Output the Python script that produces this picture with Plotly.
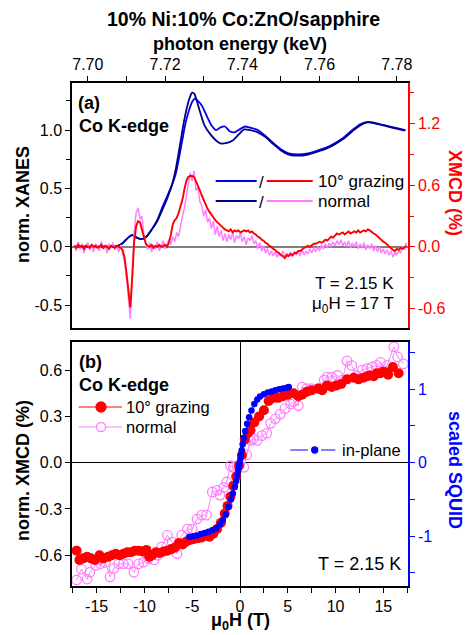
import plotly.graph_objects as go

# ---------------- top panel: Co K-edge XANES (left axis) ----------------
xanes_e_grazing = [7.6965, 7.7000, 7.7050, 7.7075, 7.7090, 7.7105, 7.7115, 7.7125, 7.7137, 7.7150,
                   7.7166, 7.7180, 7.7192, 7.7205, 7.7218, 7.7228, 7.7236, 7.7245, 7.7253, 7.7262,
                   7.7270, 7.7277, 7.7285, 7.7295, 7.7308, 7.7320, 7.7332, 7.7345, 7.7355, 7.7367,
                   7.7380, 7.7395, 7.7408, 7.7420, 7.7440, 7.7460, 7.7480, 7.7500, 7.7520, 7.7545,
                   7.7570, 7.7600, 7.7630, 7.7660, 7.7685, 7.7705, 7.7725, 7.7745, 7.7770, 7.7795,
                   7.7822]
xanes_grazing = [0.0, 0.0, 0.0, 0.005, 0.03, 0.08, 0.10, 0.08, 0.065, 0.08,
                 0.15, 0.23, 0.33, 0.43, 0.53, 0.63, 0.76, 0.92, 1.06, 1.17,
                 1.24, 1.27, 1.25, 1.21, 1.12, 1.04, 1.00, 1.025, 1.03, 0.99,
                 0.98, 1.01, 1.03, 1.02, 1.00, 0.95, 0.89, 0.835, 0.80, 0.79,
                 0.80, 0.83, 0.87, 0.93, 1.00, 1.05, 1.07, 1.06, 1.04, 1.02,
                 1.00]

xanes_e_normal = [7.6965, 7.7000, 7.7050, 7.7075, 7.7090, 7.7105, 7.7115, 7.7125, 7.7137, 7.7150,
                  7.7166, 7.7180, 7.7192, 7.7205, 7.7218, 7.7228, 7.7236, 7.7245, 7.7253, 7.7262,
                  7.7270, 7.7276, 7.7283, 7.7292, 7.7302, 7.7318, 7.7332, 7.7343, 7.7360, 7.7375,
                  7.7390, 7.7405, 7.7420, 7.7440, 7.7460, 7.7480, 7.7500, 7.7520, 7.7545, 7.7570,
                  7.7600, 7.7630, 7.7660, 7.7685, 7.7705, 7.7725, 7.7745, 7.7770, 7.7795, 7.7822]
xanes_normal = [0.0, 0.0, 0.0, 0.005, 0.03, 0.08, 0.10, 0.08, 0.065, 0.08,
                0.15, 0.22, 0.31, 0.41, 0.53, 0.67, 0.82, 1.00, 1.14, 1.26,
                1.32, 1.31, 1.24, 1.14, 1.04, 0.96, 0.91, 0.885, 0.89, 0.91,
                0.96, 1.005, 1.00, 0.98, 0.94, 0.88, 0.825, 0.79, 0.78, 0.79,
                0.82, 0.86, 0.92, 0.99, 1.04, 1.065, 1.055, 1.035, 1.015, 0.995]

# ---------------- top panel: XMCD in % (right axis), 0.5 eV scan grid ----------------
XMCD_E_START = 7.6965
XMCD_E_STEP = 0.0005
xmcd_grazing = [
    0.01, -0.01, 0.02, 0.0, 0.01, -0.02, 0.01, 0.0, -0.01, 0.02, 0.0, 0.01, -0.01, 0.0, 0.02,
    -0.01, 0.01, 0.0, -0.02, 0.01, 0.0, -0.01, 0.01, 0.0, -0.01,
    -0.03, -0.10, -0.25, -0.45, -0.59, -0.30, 0.05, 0.20, 0.25, 0.24, 0.16, 0.08, 0.03,
    0.01, 0.0, 0.02, -0.01, 0.01, 0.0, 0.02, 0.0, 0.01, 0.02, 0.0,
    0.04, 0.12, 0.22, 0.26, 0.28, 0.33, 0.40, 0.46, 0.56, 0.64, 0.68, 0.69, 0.69, 0.68, 0.64,
    0.60, 0.55, 0.50, 0.45, 0.41, 0.37, 0.34, 0.31, 0.29, 0.26, 0.24, 0.22, 0.21, 0.19, 0.17, 0.16,
    0.15, 0.17, 0.14, 0.16, 0.15, 0.16, 0.14, 0.15, 0.16, 0.15, 0.16, 0.14, 0.15,
    0.13, 0.12, 0.10, 0.09, 0.07, 0.06, 0.04, 0.03, 0.01, 0.0, -0.02, -0.03, -0.05, -0.06,
    -0.08, -0.09, -0.11,
    -0.08, -0.09, -0.07, -0.08, -0.06, -0.06, -0.04, -0.04, -0.02, -0.01, 0.0, 0.01, 0.0, 0.02,
    0.03, 0.03, 0.04,
    0.05, 0.04, 0.05, 0.07, 0.06, 0.08, 0.10, 0.09, 0.11, 0.13, 0.12, 0.13, 0.14, 0.12, 0.14,
    0.15, 0.13, 0.14, 0.15, 0.14, 0.16, 0.14, 0.15, 0.16, 0.15, 0.17, 0.16,
    0.14, 0.13, 0.12, 0.10, 0.09, 0.07, 0.05, 0.04, 0.02, 0.01, -0.01, -0.03, -0.04, -0.02,
    -0.03, -0.01, -0.02, 0.0, 0.01,
]
xmcd_normal = [
    0.02, -0.04, 0.05, -0.02, 0.03, -0.06, 0.01, 0.04, -0.03, 0.02, -0.05, 0.03, 0.0, -0.04, 0.05,
    -0.02, 0.02, -0.06, 0.03, -0.01, 0.04, -0.03, 0.01, -0.05, 0.02,
    -0.08, -0.15, -0.30, -0.52, -0.70, -0.25, 0.15, 0.33, 0.38, 0.27, 0.30, 0.12, 0.05,
    -0.03, 0.04, -0.05, 0.02, -0.02, 0.05, -0.04, 0.01, 0.06, -0.02, 0.03,
    0.07, 0.02, 0.10, 0.05, 0.14, 0.10, 0.22, 0.30, 0.38, 0.50, 0.58, 0.72, 0.64, 0.74, 0.55,
    0.58, 0.44, 0.40, 0.30, 0.36, 0.24, 0.28, 0.18, 0.25, 0.12, 0.20, 0.10, 0.16, 0.06, 0.13, 0.05,
    0.12, 0.07, 0.14, 0.04, 0.11, 0.08, 0.13, 0.05, 0.10, 0.02, 0.09, 0.06, 0.11,
    0.03, 0.06, -0.02, 0.04, -0.04, 0.01, -0.06, -0.02, -0.08, -0.04, -0.09, -0.05, -0.10, -0.06,
    -0.09, -0.04, -0.10,
    -0.06, -0.09, -0.05, -0.10, -0.04, -0.08, -0.05, -0.09, -0.03, -0.08, -0.04, -0.07, -0.02,
    -0.06, -0.01, -0.05, 0.0,
    -0.04, 0.02, -0.02, 0.03, -0.01, 0.04, 0.0, 0.05, 0.01, 0.06, 0.02, 0.07, 0.01, 0.05, 0.0,
    0.06, -0.01, 0.04, 0.0, 0.05, -0.02, 0.03, -0.01, 0.04, -0.03, 0.02, -0.02,
    0.03, -0.04, 0.01, -0.05, 0.0, -0.06, -0.02, -0.07, -0.03, -0.08, -0.04, -0.10, -0.05, -0.08,
    -0.03, -0.06, 0.0, -0.02, 0.04,
]
xmcd_energy = [round(XMCD_E_START + XMCD_E_STEP * i, 4) for i in range(len(xmcd_grazing))]

# ---------------- bottom panel: XMCD(H) at 7.727 keV and SQUID ----------------
field_grazing = [-17.1, -16.8, -16.4, -16.0, -15.6, -15.2, -14.7, -14.3, -13.8, -13.4,
                 -13.0, -12.6, -12.2, -11.8, -11.4, -11.0, -10.6, -10.2, -9.8, -9.5,
                 -9.2, -8.8, -8.4, -8.0, -7.6, -7.2, -6.8, -6.4, -6.0, -5.6,
                 -5.2, -4.8, -4.4, -4.0, -3.6, -3.2, -2.8, -2.4, -2.0, -1.6,
                 -1.3, -1.0, -0.7, -0.4, -0.1,
                 0.2, 0.5, 0.8, 1.1, 1.5, 2.0, 2.5, 3.0, 3.5, 4.0,
                 4.5, 5.0, 5.6, 6.1, 6.5, 7.0, 7.5, 8.2, 8.6, 9.1,
                 9.6, 10.1, 10.6, 11.2, 11.9, 12.4, 12.9, 13.3, 13.6, 14.0,
                 14.3, 14.7, 15.0, 15.3, 15.5, 16.0, 16.6]
xmcd_h_grazing = [-0.57, -0.63, -0.62, -0.61, -0.62, -0.63, -0.60, -0.62, -0.61, -0.60,
                  -0.59, -0.60, -0.59, -0.58, -0.58, -0.57, -0.57, -0.575, -0.565, -0.61,
                  -0.60, -0.58, -0.585, -0.575, -0.57, -0.56, -0.55, -0.52, -0.53, -0.51,
                  -0.50, -0.495, -0.49, -0.485, -0.47, -0.48, -0.46, -0.43, -0.39, -0.33,
                  -0.28, -0.22, -0.15, -0.09, -0.02,
                  0.05, 0.15, 0.19, 0.21, 0.26, 0.30, 0.34, 0.40, 0.42, 0.42,
                  0.43, 0.44, 0.45, 0.43, 0.44, 0.46, 0.47, 0.48, 0.47, 0.50,
                  0.49, 0.50, 0.51, 0.54, 0.55, 0.54, 0.55, 0.56, 0.565, 0.56,
                  0.58, 0.58, 0.59, 0.585, 0.57, 0.62, 0.58]

field_normal = [-17.1, -16.6, -16.0, -15.7, -15.1, -14.6, -14.1, -13.6, -13.2, -12.7,
                -12.2, -11.7, -11.1, -10.6, -10.1, -9.6, -9.0, -8.6, -8.2, -7.6,
                -7.1, -6.6, -6.1, -5.5, -5.0, -4.5, -4.0, -3.5, -2.9, -2.4,
                -2.1, -1.7, -1.4, -1.0, -0.7, -0.3, 0.4, 0.7, 1.1, 1.4,
                1.8, 2.3, 2.8, 3.2, 3.7, 4.2, 4.7, 5.3, 5.6, 6.1,
                6.5, 7.0, 7.5, 8.2, 8.8, 9.1, 9.6, 10.2, 10.7, 11.2,
                11.7, 12.2, 12.8, 13.3, 13.8, 14.3, 14.7, 15.0, 15.4, 16.1,
                16.5, 17.1]
xmcd_h_normal = [-0.76, -0.69, -0.755, -0.71, -0.665, -0.655, -0.645, -0.74, -0.685, -0.655,
                 -0.655, -0.655, -0.71, -0.655, -0.645, -0.62, -0.63, -0.60, -0.545, -0.47,
                 -0.515, -0.59, -0.47, -0.43, -0.43, -0.365, -0.34, -0.34, -0.19, -0.18,
                 -0.21, -0.16, -0.125, -0.02, -0.03, -0.02, -0.03, 0.05, 0.145, 0.155,
                 0.145, 0.175, 0.19, 0.255, 0.285, 0.315, 0.35, 0.38, 0.395, 0.37,
                 0.49, 0.48, 0.48, 0.48, 0.535, 0.555, 0.555, 0.565, 0.535, 0.66,
                 0.63, 0.565, 0.60, 0.61, 0.62, 0.63, 0.65, 0.60, 0.63, 0.75,
                 0.685, 0.64]

field_squid = [-5.3, -4.9, -4.5, -4.1, -3.7, -3.3, -2.9, -2.5, -2.1, -1.8,
               -1.5, -1.2, -0.95, -0.75, -0.55, -0.4, -0.28, -0.18, -0.1, -0.03,
               0.03, 0.1, 0.18, 0.28, 0.4, 0.55, 0.75, 0.95, 1.2, 1.5,
               1.8, 2.1, 2.5, 2.9, 3.3, 3.7, 4.1, 4.5, 4.9, 5.1]
squid_inplane = [-1.01, -1.0, -0.99, -0.97, -0.955, -0.94, -0.92, -0.89, -0.84, -0.78,
                 -0.70, -0.60, -0.50, -0.42, -0.33, -0.25, -0.17, -0.10, -0.04, 0.0,
                 0.05, 0.10, 0.17, 0.25, 0.34, 0.43, 0.53, 0.62, 0.71, 0.80,
                 0.86, 0.90, 0.93, 0.955, 0.97, 0.985, 1.0, 1.01, 1.02, 1.03]

# tick labels (plain hyphen minus)
e_ticks = [7.70, 7.72, 7.74, 7.76, 7.78]
e_minor = [7.71, 7.73, 7.75, 7.77]
e_all = [7.70, 7.71, 7.72, 7.73, 7.74, 7.75, 7.76, 7.77, 7.78]
xanes_ticks = [-0.5, 0.0, 0.5, 1.0]
xanes_minor = [-0.25, 0.25, 0.75, 1.25]
xmcd_ticks = [-0.6, 0.0, 0.6, 1.2]
xmcd_minor = [-0.3, 0.3, 0.9, 1.5]
h_ticks = [-15, -10, -5, 0, 5, 10, 15]
h_minor = [-17.5, -12.5, -7.5, -2.5, 2.5, 7.5, 12.5, 17.5]
h_all = [-17.5, -15, -12.5, -10, -7.5, -5, -2.5, 0, 2.5, 5, 7.5, 10, 12.5, 15, 17.5]
xmcdh_ticks = [-0.6, -0.3, 0.0, 0.3, 0.6]
squid_ticks = [-1, 0, 1]
squid_minor = [-1.5, -0.5, 0.5, 1.5]


def lab(v, fmt):
    return format(v, fmt).replace("\u2212", "-")


BLUE = "#0000f0"
NAVY = "#00008b"
RED = "#ff0000"
PINK = "#ff80ff"
SQUID_BLUE = "#0000ff"
FONT = "Liberation Sans, Arial, sans-serif"

# figure geometry (pixels)
W, H = 466, 635
L, R, T, B = 72, 408, 83, 586


def fx(px):
    return (px - L) / (R - L)


def fy(py):
    return (B - py) / (B - T)


top_dom = [fy(328), 1.0]
bot_dom = [0.0, fy(342)]

fig = go.Figure()

# top panel: XANES
fig.add_trace(go.Scatter(x=xanes_e_grazing, y=xanes_grazing, mode="lines",
                         line=dict(color=BLUE, width=1.8, shape="spline", smoothing=0.6),
                         xaxis="x2", yaxis="y3", showlegend=False))
fig.add_trace(go.Scatter(x=xanes_e_normal, y=xanes_normal, mode="lines",
                         line=dict(color=NAVY, width=1.8, shape="spline", smoothing=0.6),
                         xaxis="x2", yaxis="y3", showlegend=False))
# top panel: XMCD
fig.add_trace(go.Scatter(x=xmcd_energy, y=xmcd_normal, mode="lines",
                         line=dict(color=PINK, width=1.5),
                         xaxis="x2", yaxis="y4", showlegend=False))
fig.add_trace(go.Scatter(x=xmcd_energy, y=xmcd_grazing, mode="lines",
                         line=dict(color=RED, width=1.9),
                         xaxis="x2", yaxis="y4", showlegend=False))

# bottom panel: field dependence
fig.add_trace(go.Scatter(x=field_normal, y=xmcd_h_normal, mode="lines+markers",
                         line=dict(color=PINK, width=1),
                         marker=dict(symbol="circle-open", size=9.5, color=PINK, line=dict(width=1.3)),
                         xaxis="x", yaxis="y", showlegend=False))
fig.add_trace(go.Scatter(x=field_grazing, y=xmcd_h_grazing, mode="lines+markers",
                         line=dict(color=RED, width=1),
                         marker=dict(symbol="circle", size=10, color=RED),
                         xaxis="x", yaxis="y", showlegend=False))
fig.add_trace(go.Scatter(x=field_squid, y=squid_inplane, mode="lines+markers",
                         line=dict(color=SQUID_BLUE, width=1),
                         marker=dict(symbol="circle", size=6.5, color=SQUID_BLUE),
                         xaxis="x", yaxis="y2", showlegend=False))

tickfont = dict(family=FONT, size=16, color="black")
e_range = [7.6959, 7.7829]
h_range = [-17.58, 17.58]

fig.update_layout(
    width=W, height=H,
    margin=dict(l=L, r=W - R, t=T, b=H - B, pad=0),
    paper_bgcolor="white", plot_bgcolor="white",
    font=dict(family=FONT, size=16, color="black"),
    showlegend=False,
    # top panel, energy axis with labels at top
    xaxis2=dict(domain=[0, 1], anchor="y3", side="top", range=e_range,
                tickmode="array", tickvals=e_ticks, ticktext=[lab(v, ".2f") for v in e_ticks],
                ticks="outside", ticklen=5, tickwidth=1.3, tickcolor="black",
                minor=dict(tickmode="array", tickvals=e_minor, ticks="outside", ticklen=5,
                           tickwidth=1.3, tickcolor="black"),
                showline=True, linecolor="black", linewidth=1.5, mirror=True,
                showgrid=False, zeroline=False, tickfont=tickfont),
    # inside ticks along the lower edge of the top panel
    xaxis3=dict(overlaying="x2", anchor="y3", side="bottom", range=e_range,
                tickmode="array", tickvals=e_all, ticks="inside", ticklen=5, tickwidth=1.3,
                tickcolor="black", showticklabels=False, showline=False,
                showgrid=False, zeroline=False),
    yaxis3=dict(domain=top_dom, anchor="x2", range=[-0.697, 1.403],
                tickmode="array", tickvals=xanes_ticks, ticktext=[lab(v, ".1f") for v in xanes_ticks],
                ticks="outside", ticklen=5, tickwidth=1.3, tickcolor="black",
                minor=dict(tickmode="array", tickvals=xanes_minor, ticks="outside", ticklen=4,
                           tickwidth=1.3, tickcolor="black"),
                showline=True, linecolor="black", linewidth=1.5,
                showgrid=False, zeroline=True, zerolinecolor="#808080", zerolinewidth=1.5,
                tickfont=tickfont),
    yaxis4=dict(overlaying="y3", anchor="x2", side="right", range=[-0.79, 1.595],
                tickmode="array", tickvals=xmcd_ticks, ticktext=[lab(v, ".1f") for v in xmcd_ticks],
                ticks="outside", ticklen=5, tickwidth=1.3, tickcolor=RED,
                minor=dict(tickmode="array", tickvals=xmcd_minor, ticks="outside", ticklen=4,
                           tickwidth=1.3, tickcolor=RED),
                showline=True, linecolor=RED, linewidth=1.5,
                showgrid=False, zeroline=False, tickfont=dict(family=FONT, size=16, color=RED)),
    # bottom panel, field axis
    xaxis=dict(domain=[0, 1], anchor="y", range=h_range,
               tickmode="array", tickvals=h_ticks, ticktext=[lab(v, "d") for v in h_ticks],
               ticks="outside", ticklen=5, tickwidth=1.3, tickcolor="black",
               minor=dict(tickmode="array", tickvals=h_minor, ticks="outside", ticklen=5,
                          tickwidth=1.3, tickcolor="black"),
               showline=True, linecolor="black", linewidth=1.5, mirror=True,
               showgrid=False, zeroline=True, zerolinecolor="black", zerolinewidth=1.3,
               tickfont=tickfont),
    xaxis4=dict(overlaying="x", anchor="y", side="top", range=h_range,
                tickmode="array", tickvals=h_all, ticks="inside", ticklen=5, tickwidth=1.3,
                tickcolor="black", showticklabels=False, showline=False,
                showgrid=False, zeroline=False),
    yaxis=dict(domain=bot_dom, anchor="x", range=[-0.799, 0.782],
               tickmode="array", tickvals=xmcdh_ticks, ticktext=[lab(v, ".1f") for v in xmcdh_ticks],
               ticks="outside", ticklen=5, tickwidth=1.3, tickcolor="black",
               showline=True, linecolor="black", linewidth=1.5,
               showgrid=False, zeroline=True, zerolinecolor="black", zerolinewidth=1.3,
               tickfont=tickfont),
    yaxis2=dict(overlaying="y", anchor="x", side="right", range=[-1.677, 1.642],
                tickmode="array", tickvals=squid_ticks, ticktext=[lab(v, "d") for v in squid_ticks],
                ticks="outside", ticklen=5, tickwidth=1.3, tickcolor=SQUID_BLUE,
                minor=dict(tickmode="array", tickvals=squid_minor, ticks="outside", ticklen=5,
                           tickwidth=1.3, tickcolor=SQUID_BLUE),
                showline=True, linecolor=SQUID_BLUE, linewidth=1.5,
                showgrid=False, zeroline=False,
                tickfont=dict(family=FONT, size=16, color=SQUID_BLUE)),
)


def text(s, px, py, size, color="black", xanchor="left", angle=0):
    fig.add_annotation(text=s, x=fx(px), y=fy(py), xref="paper", yref="paper",
                       xanchor=xanchor, yanchor="middle", showarrow=False, textangle=angle,
                       font=dict(family=FONT, size=size, color=color))


def seg(x0, x1, py, color, width=2):
    fig.add_shape(type="line", xref="paper", yref="paper", x0=fx(x0), x1=fx(x1),
                  y0=fy(py), y1=fy(py), line=dict(color=color, width=width))


def dot(px, py, d, fill, edge):
    fig.add_shape(type="circle", xref="paper", yref="paper",
                  xsizemode="pixel", ysizemode="pixel", xanchor=fx(px), yanchor=fy(py),
                  x0=-d / 2, x1=d / 2, y0=-d / 2, y1=d / 2,
                  fillcolor=fill, line=dict(color=edge, width=1.3))


# titles
text("<b>10% Ni:10% Co:ZnO/sapphire</b>", 243, 19, 19.5, xanchor="center")
text("<b>photon energy (keV)</b>", 240, 44, 18, xanchor="center")
text("<b>norm. XANES</b>", 23, 205, 18, xanchor="center", angle=-90)
text("<b>XMCD (%)</b>", 455, 193, 18, color=RED, xanchor="center", angle=90)
text("<b>norm. XMCD (%)</b>", 23, 471, 18, xanchor="center", angle=-90)
text("<b>scaled SQUID</b>", 455, 470, 18, color=SQUID_BLUE, xanchor="center", angle=90)
text("<b>\u03bc<sub>0</sub>H (T)</b>", 240, 621, 18, xanchor="center")

# top panel labels
text("<b>(a)</b>", 76, 103, 18)
text("<b>Co K-edge</b>", 77, 126, 18)
text("T = 2.15 K", 396, 283, 17, xanchor="right")
text("\u03bc<sub>0</sub>H = 17 T", 396, 305, 17, xanchor="right")

# top panel key
seg(215.7, 256.7, 181, BLUE)
text("/", 261.7, 182, 17, xanchor="center")
seg(266.7, 312.7, 181, RED)
text("10\u00b0 grazing", 316, 181, 17)
seg(215.7, 256.7, 201, NAVY)
text("/", 261.7, 202, 17, xanchor="center")
seg(266.7, 312.7, 201, PINK)
text("normal", 316, 201, 17)

# bottom panel labels
text("<b>(b)</b>", 77, 362, 18)
text("<b>Co K-edge</b>", 77, 385, 18)
text("T = 2.15 K", 403, 564, 18, xanchor="right")

# bottom panel key
seg(78.7, 122, 407, RED, 1)
dot(101, 407, 10, RED, RED)
text("10\u00b0 grazing", 124, 407, 16.5)
seg(78.7, 122, 427, PINK, 1)
dot(101, 427, 9, "white", PINK)
text("normal", 124, 427, 16.5)
seg(290.3, 308, 450, SQUID_BLUE, 1)
seg(321, 335.3, 450, SQUID_BLUE, 1)
dot(314.7, 450, 6, SQUID_BLUE, SQUID_BLUE)
text("in-plane", 340, 450, 16.5)

fig.write_html("out.html")
